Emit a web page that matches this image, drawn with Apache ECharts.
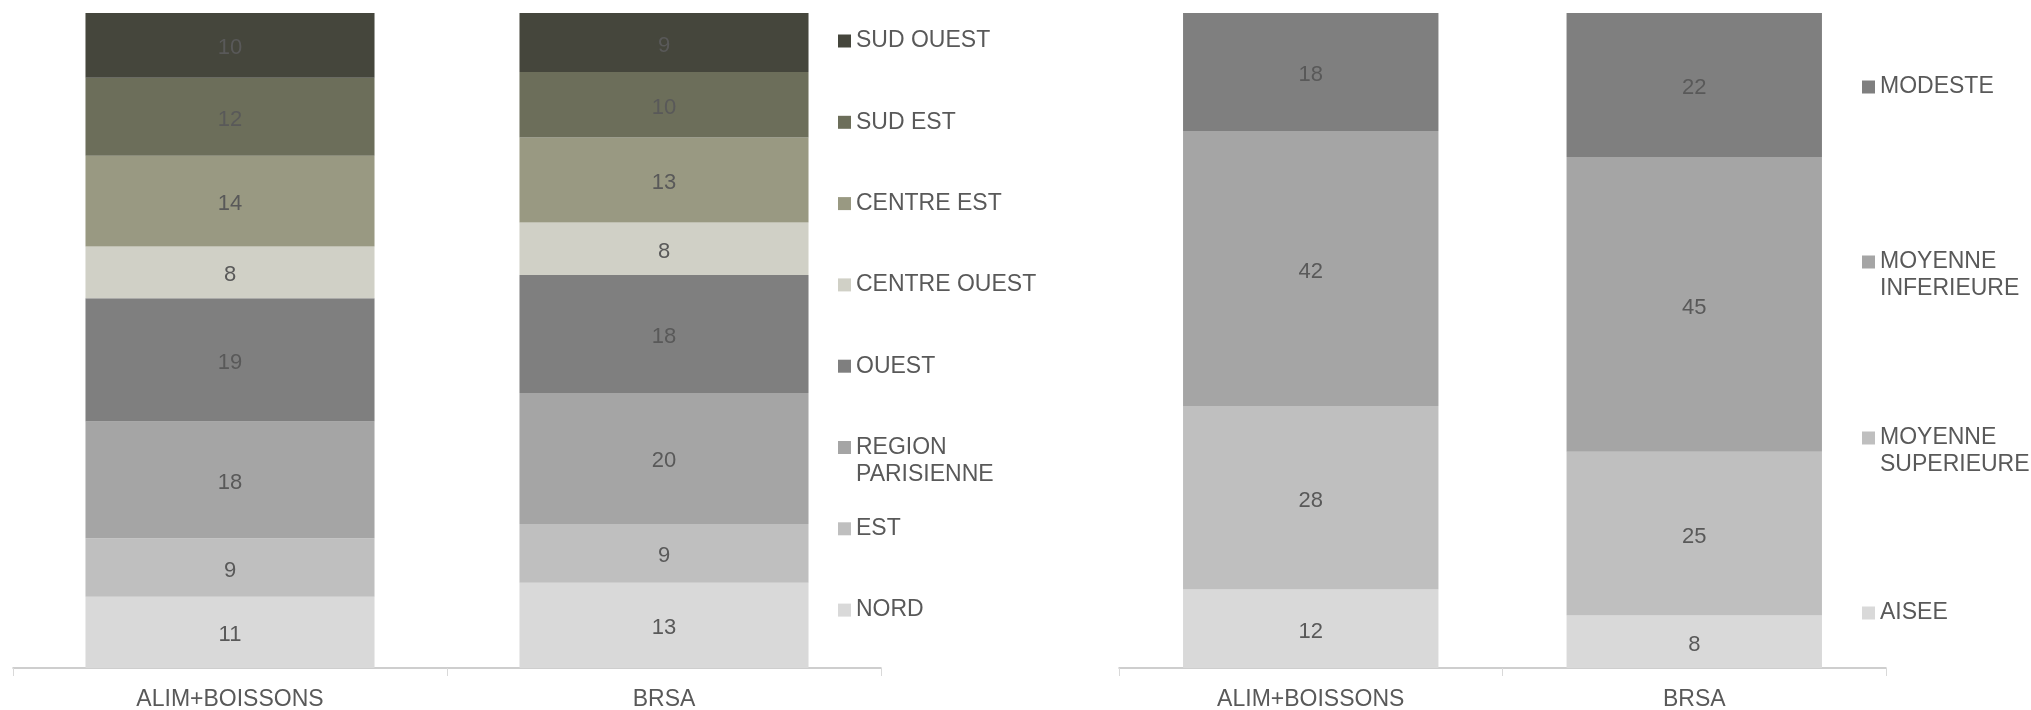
<!DOCTYPE html>
<html>
<head>
<meta charset="utf-8">
<script src="https://cdn.jsdelivr.net/npm/echarts@6/dist/echarts.min.js"></script>
<style>
  html, body { margin: 0; padding: 0; background: #fff; }
  #main { width: 2031px; height: 710px; }
</style>
</head>
<body>
<div id="main"></div>
<script>
// categories (same for both charts)
var categories = ['ALIM+BOISSONS', 'BRSA']

// left chart: regions, bottom -> top
var nord = [11, 13]
var est = [9, 9]
var regionParisienne = [18, 20]
var ouest = [19, 18]
var centreOuest = [8, 8]
var centreEst = [14, 13]
var sudEst = [12, 10]
var sudOuest = [10, 9]

// right chart: income class, bottom -> top
var aisee = [12, 8]
var moyenneSup = [28, 25]
var moyenneInf = [42, 45]
var modeste = [18, 22]

var FONT = '"Liberation Sans", Arial, sans-serif'
var TXT = '#595959'

var regionSeries = [
  { name: 'NORD', data: nord, color: '#d9d9d9' },
  { name: 'EST', data: est, color: '#bfbfbf' },
  { name: 'REGION PARISIENNE', data: regionParisienne, color: '#a5a5a5' },
  { name: 'OUEST', data: ouest, color: '#7f7f7f' },
  { name: 'CENTRE OUEST', data: centreOuest, color: '#d0d0c6' },
  { name: 'CENTRE EST', data: centreEst, color: '#999982' },
  { name: 'SUD EST', data: sudEst, color: '#6c6e5a' },
  { name: 'SUD OUEST', data: sudOuest, color: '#45463c' }
]
var classSeries = [
  { name: 'AISEE', data: aisee, color: '#d9d9d9' },
  { name: 'MOYENNE SUPERIEURE', data: moyenneSup, color: '#bfbfbf' },
  { name: 'MOYENNE INFERIEURE', data: moyenneInf, color: '#a5a5a5' },
  { name: 'MODESTE', data: modeste, color: '#7f7f7f' }
]

// 100% stacked: share of each category total
function totals(list) {
  return categories.map(function(c, i) {
    return list.reduce(function(s, it) { return s + it.data[i] }, 0)
  })
}

function buildSeries(list, axisIdx, stack) {
  var tot = totals(list)
  return list.map(function(it) {
    return {
      name: it.name,
      type: 'bar',
      stack: stack,
      xAxisIndex: axisIdx,
      yAxisIndex: axisIdx,
      barWidth: '66.6%',
      itemStyle: { color: it.color },
      label: {
        show: true,
        position: 'inside',
        offset: [0, 3],
        color: TXT,
        fontFamily: FONT,
        fontSize: 22,
        formatter: function(p) { return String(it.data[p.dataIndex]) }
      },
      data: it.data.map(function(v, i) { return v / tot[i] * 100 })
    }
  })
}

// one legend per entry so entries sit where the reference has them
function buildLegend(name, x, iconY, color) {
  var twoLines = name === 'REGION PARISIENNE' || name.indexOf('MOYENNE') === 0
  return {
    orient: 'vertical',
    left: x,
    top: twoLines ? iconY - 40.5 : iconY - 13.5,
    padding: 0,
    itemWidth: 13,
    itemHeight: 13,
    icon: 'rect',
    selectedMode: false,
    data: [{ name: name, itemStyle: { color: color } }],
    // leading empty line keeps the first text line level with the icon
    formatter: function(n) { return twoLines ? '\n' + n.replace(' ', '\n') : n },
    textStyle: {
      color: TXT,
      fontFamily: FONT,
      fontSize: 23,
      lineHeight: 27
    }
  }
}

var legends = []
// left legend, top -> bottom
regionSeries.slice().reverse().forEach(function(it, i) {
  legends.push(buildLegend(it.name, 838, 41 + 81.3 * i, it.color))
})
var rightIconY = [87, 262, 438, 613]
classSeries.slice().reverse().forEach(function(it, i) {
  legends.push(buildLegend(it.name, 1862, rightIconY[i], it.color))
})

function xAxis(idx) {
  return {
    type: 'category',
    gridIndex: idx,
    data: categories,
    axisLine: { lineStyle: { color: '#bfbfbf', width: 1.5 } },
    axisTick: { show: true, length: 8, lineStyle: { color: '#d9d9d9' } },
    axisLabel: { color: TXT, fontFamily: FONT, fontSize: 23, margin: 20 }
  }
}
function yAxis(idx) {
  return { type: 'value', gridIndex: idx, min: 0, max: 100, show: false, splitLine: { show: false } }
}

var myChart = echarts.init(document.getElementById('main'))
var option = {
  animation: false,
  backgroundColor: '#fff',
  grid: [
    { left: 13, right: 1150, top: 13, bottom: 42, outerBoundsMode: 'none' },
    { left: 1119, right: 145, top: 13, bottom: 42, outerBoundsMode: 'none' }
  ],
  legend: legends,
  xAxis: [xAxis(0), xAxis(1)],
  yAxis: [yAxis(0), yAxis(1)],
  series: buildSeries(regionSeries, 0, 'region').concat(buildSeries(classSeries, 1, 'classe'))
}
myChart.setOption(option)
window.addEventListener('resize', function() { myChart.resize() })
</script>
</body>
</html>
